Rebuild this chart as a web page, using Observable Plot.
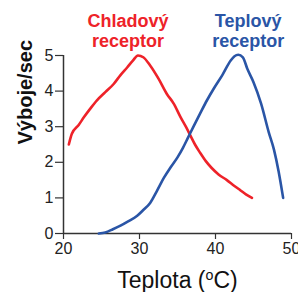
<!DOCTYPE html>
<html>
<head>
<meta charset="utf-8">
<script src="https://cdn.jsdelivr.net/npm/d3@7"></script>
<script src="https://cdn.jsdelivr.net/npm/@observablehq/plot@0.6"></script>
<style>
  html, body { margin: 0; padding: 0; background: #fff; }
</style>
</head>
<body>
<div id="chart"></div>
<script>
// Cold receptor (Chladový receptor)
const coldTemp = [20.7, 21.1, 22.0, 22.7, 23.5, 24.4, 25.5, 26.6, 27.5, 28.4, 29.1, 29.8, 30.5, 31.4, 32.5, 33.6, 34.5, 35.4, 36.1, 36.7, 37.3, 38.0, 38.7, 39.5, 40.4, 41.5, 42.4, 43.3, 44.0, 44.8];
const coldRate = [2.5, 2.8, 3.05, 3.27, 3.5, 3.74, 3.97, 4.2, 4.45, 4.67, 4.85, 5.0, 4.95, 4.72, 4.35, 3.92, 3.65, 3.27, 3.0, 2.75, 2.5, 2.26, 2.04, 1.84, 1.66, 1.5, 1.35, 1.21, 1.1, 1.0];
// Warm receptor (Teplový receptor)
const warmTemp = [24.65, 25.5, 26.5, 27.5, 28.5, 29.7, 30.5, 31.4, 32.3, 33.2, 34.1, 35.0, 35.7, 36.4, 37.1, 38.0, 38.9, 39.8, 40.9, 42.0, 42.5, 43.0, 43.6, 44.2, 45.0, 46.0, 47.0, 47.7, 48.3, 48.9];
const warmRate = [0.0, 0.03, 0.12, 0.22, 0.34, 0.5, 0.66, 0.86, 1.2, 1.56, 1.86, 2.14, 2.4, 2.7, 3.0, 3.38, 3.75, 4.08, 4.45, 4.86, 4.98, 5.02, 4.95, 4.62, 4.25, 3.65, 2.85, 2.35, 1.75, 1.0];

const xTicks = [20, 30, 40, 50];
const yTicks = [0, 1, 2, 3, 4, 5];
const seriesNames = ["Chladový\nreceptor", "Teplový\nreceptor"];
const labelX = [28.5, 44.3];
const labelY = [5.7, 5.7];
const xTitle = "Teplota (°C)";
const yTitle = "Výboje/sec";

const RED = "#ee2229";
const BLUE = "#2a55a6";

const cold = coldTemp.map((t, i) => ({t, r: coldRate[i]}));
const warm = warmTemp.map((t, i) => ({t, r: warmRate[i]}));
const labels = seriesNames.map((name, i) => ({name, x: labelX[i], y: labelY[i], color: i === 0 ? RED : BLUE}));

const chart = Plot.plot({
  width: 298,
  height: 292,
  marginLeft: 63,
  marginRight: 7,
  marginTop: 55,
  marginBottom: 59,
  style: {fontFamily: "'Liberation Sans', Arial, sans-serif", background: "#fff", color: "#222"},
  x: {domain: [20, 50]},
  y: {domain: [0, 5]},
  marks: [
    Plot.axisX({ticks: xTicks, tickFormat: d => String(d), tickSize: 6, tickPadding: 3, fontSize: 16, label: null, stroke: "#333", strokeWidth: 1.2}),
    Plot.axisY({ticks: yTicks, tickFormat: d => String(d), tickSize: 8, tickPadding: 2, fontSize: 16, label: null, stroke: "#333", strokeWidth: 1.2}),
    Plot.ruleX([20], {y1: 0, y2: 5, stroke: "#333", strokeWidth: 1.5}),
    Plot.ruleY([0], {x1: 20, x2: 50, stroke: "#333", strokeWidth: 1.5}),
    Plot.line(cold, {x: "t", y: "r", stroke: RED, strokeWidth: 2.6, curve: "monotone-x"}),
    Plot.line(warm, {x: "t", y: "r", stroke: BLUE, strokeWidth: 2.6, curve: "monotone-x"}),
    Plot.text(labels, {x: "x", y: "y", text: "name", fill: "color", fontSize: 18, fontWeight: "bold", lineHeight: 1.08, lineAnchor: "middle", clip: false}),
    Plot.text([yTitle], {frameAnchor: "left", dx: -38, rotate: -90, fontSize: 20, fontWeight: "bold", fill: "#111", lineAnchor: "middle"}),
    Plot.text([xTitle], {frameAnchor: "bottom", dy: 47, fontSize: 23, fill: "#111", lineAnchor: "middle"})
  ]
});

document.getElementById("chart").appendChild(chart);

// render the degree sign as a superscript "o" like the original
chart.querySelectorAll("text").forEach(t => {
  if (t.textContent === xTitle) {
    const parts = xTitle.split("°");
    t.textContent = "";
    const ns = "http://www.w3.org/2000/svg";
    const a = document.createElementNS(ns, "tspan"); a.textContent = parts[0];
    const b = document.createElementNS(ns, "tspan"); b.textContent = "o";
    b.setAttribute("font-size", "0.62em"); b.setAttribute("dy", "-0.55em");
    const c = document.createElementNS(ns, "tspan"); c.textContent = parts[1];
    c.setAttribute("dy", "0.34em");
    t.append(a, b, c);
  }
});
</script>
</body>
</html>
